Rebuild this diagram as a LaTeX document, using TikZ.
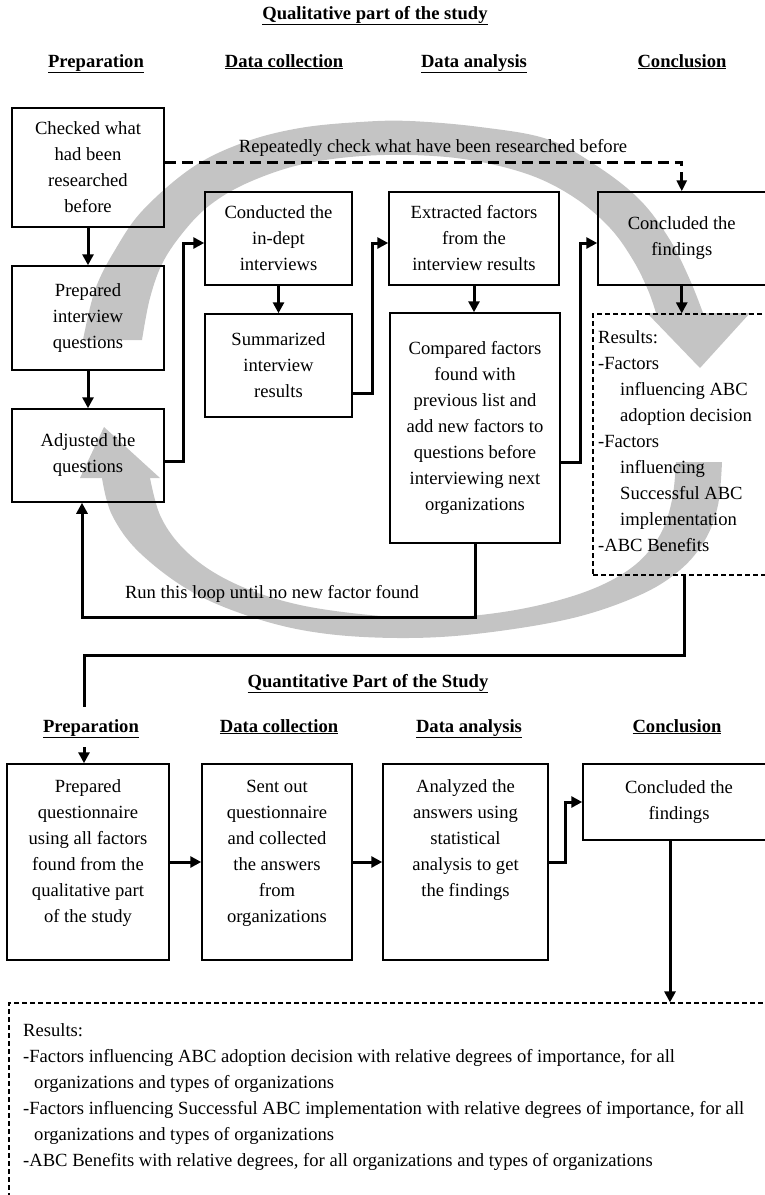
\documentclass[tikz,border=0pt]{standalone}
\usepackage{fontspec}
\setmainfont{Liberation Serif}
\usetikzlibrary{arrows.meta}
\newcommand\boxtxt[3]{\parbox[c][#1][t]{#2}{\centering\strut #3}}
\begin{document}
\begin{tikzpicture}[x=1pt,y=-1pt,
  every node/.style={font=\fontsize{18.6}{26}\selectfont, inner sep=0pt},
  box/.style={draw, line width=1.5pt, align=center},
  dbox/.style={draw, line width=1.2pt, dash pattern=on 5pt off 3pt},
  conn/.style={line width=3pt, -{Triangle[length=11pt,width=11pt]}},
  plain/.style={line width=3pt},
  dconn/.style={line width=3pt, dash pattern=on 11pt off 6pt, -{Triangle[length=11pt,width=10pt]}},
  hdr/.style={font=\fontsize{18.6}{26}\selectfont\bfseries, anchor=base},
  lbl/.style={anchor=base},
  shade/.style={fill=black!23},
]
\path[use as bounding box] (0,0) rectangle (765,1195);
\clip (0,0) rectangle (765,1195);

% grey circular arrows
\fill[shade] plot[smooth, tension=0.6] coordinates {(83,340) (95,290) (115,250) (143,210) (193,167) (245,142) (300,128) (360,122) (410,121) (480,127) (547,139) (597,166) (640,200) (670,240) (690,280) (703,313)}
  -- (750,313) -- (700,368) -- (647,313) -- (656,313)
  -- plot[smooth, tension=0.6] coordinates {(656,313) (648,290) (633,260) (610,228) (575,198) (530,175) (470,160) (410,155) (350,157) (295,166) (245,184) (210,205) (185,230) (163,262) (150,298) (142,340)} -- cycle;
\fill[shade] plot[smooth, tension=0.6] coordinates {(722,462) (718,505) (705,540) (680,570) (640,595) (573,618) (484,633) (408,638) (328,634) (261,620) (194,593) (140,553) (112,515) (102,478)}
  -- (80,478) -- (104,427) -- (160,478) -- (150,478)
  -- plot[smooth, tension=0.6] coordinates {(150,478) (160,515) (180,545) (210,570) (250,590) (300,605) (360,614) (420,618) (480,615) (540,605) (595,588) (635,565) (660,535) (672,500) (676,462)} -- cycle;

% headings
\node[hdr] (t1) at (375,19) {\underline{Qualitative part of the study}};
\node[hdr] (h1) at (96,67) {\underline{Preparation}};
\node[hdr] (h2) at (284,67) {\underline{Data collection}};
\node[hdr] (h3) at (474,67) {\underline{Data analysis}};
\node[hdr] (h4) at (682,67) {\underline{Conclusion}};

% top boxes
\node[box, minimum width=152pt, minimum height=119pt] (chk) at (88,167.5) {Checked what\\had been\\researched\\before};
\node[box, minimum width=152pt, minimum height=104pt] (prep) at (88,318) {Prepared\\interview\\questions};
\node[box, minimum width=152pt, minimum height=93pt] (adj) at (88,455.5) {Adjusted the\\questions};
\node[box, minimum width=147pt, minimum height=93pt] (cond) at (278.5,238.5) {Conducted the\\in-dept\\interviews};
\node[box, minimum width=147pt, minimum height=103pt] (summ) at (278.5,365.5) {Summarized\\interview\\results};
\node[box, minimum width=170pt, minimum height=93pt] (extr) at (474,238.5) {Extracted factors\\from the\\interview results};
\node[box, minimum width=170pt, minimum height=230pt] (comp) at (475,428) {Compared factors\\found with\\previous list and\\add new factors to\\questions before\\interviewing next\\organizations};
\node[box, minimum width=167.5pt, minimum height=93pt] (conc) at (681.75,238.5) {Concluded the\\findings};
\node[dbox, minimum width=182pt, minimum height=261pt] (res) at (684,444.5) {};
\node[anchor=north west, align=left] (restxt) at (598,325) {\strut Results:\\-Factors\\\hspace*{22pt}influencing ABC\\\hspace*{22pt}adoption decision\\-Factors\\\hspace*{22pt}influencing\\\hspace*{22pt}Successful ABC\\\hspace*{22pt}implementation\\-ABC Benefits};

\node[lbl] (rep) at (433,152) {Repeatedly check what have been researched before};
\node[lbl] (runl) at (272,598) {Run this loop until no new factor found};

% top connectors
\draw[conn] (chk) -- (prep);
\draw[conn] (prep) -- (adj);
\draw[conn] ([yshift=-5.5pt]adj.east) -- ++(19pt,0) |- ([yshift=-4.5pt]cond.west);
\draw[conn] (cond) -- (summ);
\draw[conn] ([yshift=-27.5pt]summ.east) -- ++(20pt,0) |- ([yshift=-4.5pt]extr.west);
\draw[conn] (extr.south) -- (extr.south |- comp.north);
\draw[conn] ([yshift=-34pt]comp.east) -- ++(20pt,0) |- ([yshift=-4.5pt]conc.west);
\draw[conn] (conc.south) -- (conc.south |- res.north);
\draw[dconn] ([yshift=5.5pt]chk.east) -| (conc.north);
\coordinate (loopc) at (82,617);
\draw[conn] (comp.south) |- (loopc) -- ([xshift=-6pt]adj.south);

% link to quantitative part
\coordinate (qturn) at (84,655);
\coordinate (qa) at (84,707);
\coordinate (qb) at (84,747);
\draw[plain] (res.south) |- (qturn) -- (qa);

\node[hdr] (t2) at (368,687) {\underline{Quantitative Part of the Study}};
\node[hdr] (g1) at (91,732) {\underline{Preparation}};
\node[hdr] (g2) at (279,732) {\underline{Data collection}};
\node[hdr] (g3) at (469,732) {\underline{Data analysis}};
\node[hdr] (g4) at (677,732) {\underline{Conclusion}};

% bottom boxes
\node[box, minimum width=162pt, minimum height=196pt] (q1) at (88,862) {\boxtxt{176pt}{158pt}{Prepared\\questionnaire\\using all factors\\found from the\\qualitative part\\of the study}};
\node[box, minimum width=150pt, minimum height=196pt] (q2) at (277,862) {\boxtxt{176pt}{146pt}{Sent out\\questionnaire\\and collected\\the answers\\from\\organizations}};
\node[box, minimum width=165pt, minimum height=196pt] (q3) at (465.5,862) {\boxtxt{176pt}{161pt}{Analyzed the\\answers using\\statistical\\analysis to get\\the findings}};
\node[box, minimum width=192pt, minimum height=76pt] (q4) at (679,802) {Concluded the\\findings};

\draw[conn] (qb) -- (qb |- q1.north);
\draw[conn] (q1) -- (q2);
\draw[conn] (q2) -- (q3);
\draw[conn] (q3.east) -- ++(17pt,0) |- (q4.west);

\node[dbox, minimum width=771pt, minimum height=212pt] (res2) at (394.5,1109) {};
\draw[conn] ([xshift=-9pt]q4.south) -- ([xshift=-9pt]q4.south |- res2.north);
\node[anchor=north west, align=left] (res2txt) at (23,1018) {\strut Results:\\-Factors influencing ABC adoption decision with relative degrees of importance, for all\\\hspace*{11pt}organizations and types of organizations\\-Factors influencing Successful ABC implementation with relative degrees of importance, for all\\\hspace*{11pt}organizations and types of organizations\\-ABC Benefits with relative degrees, for all organizations and types of organizations};
\end{tikzpicture}
\end{document}
